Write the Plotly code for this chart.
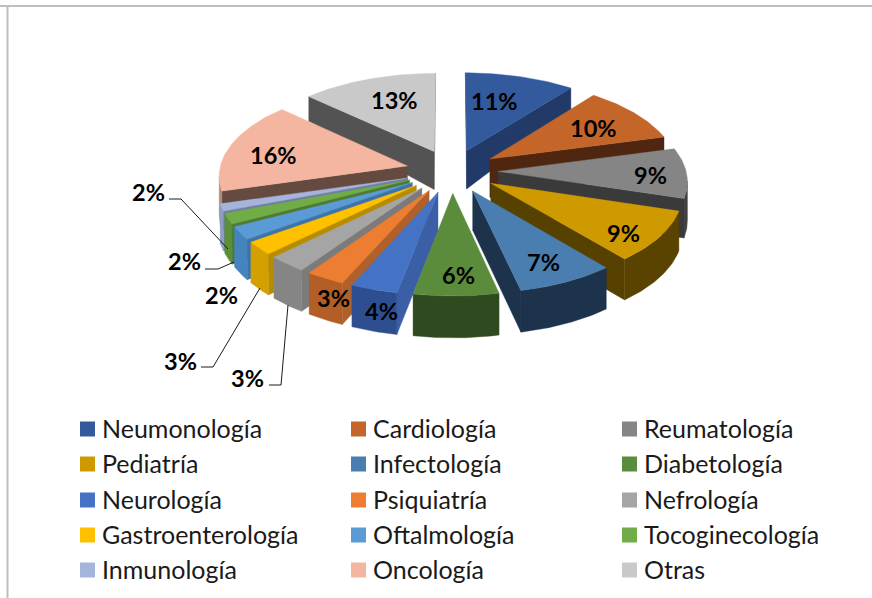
import numpy as np
import plotly.graph_objects as go

# ---- data ----
categories = ["Neumonología", "Cardiología", "Reumatología", "Pediatría", "Infectología",
              "Diabetología", "Neurología", "Psiquiatría", "Nefrología", "Gastroenterología",
              "Oftalmología", "Tocoginecología", "Inmunología", "Oncología", "Otras"]
percent_labels = [11, 10, 9, 9, 7, 6, 4, 3, 3, 3, 2, 2, 2, 16, 13]
# slice shares as measured from the angles in the picture
slice_shares = [10.5, 10.3, 9.0, 9.2, 7.5, 6.5, 3.6, 3.0, 3.0, 2.4, 2.3, 1.9, 1.3, 16.5, 13.0]

# ---- styles ----
top_colors = ["#335A9C", "#C4652A", "#858585", "#CF9A00", "#4A7EB0", "#5B8C3C", "#4472C4", "#ED7D31",
              "#A5A5A5", "#FFC000", "#5B9BD5", "#70AD47", "#A5B4DA", "#F4B6A0", "#C9C9C9"]
radial_wall_colors = ["#223A68", "#4F2610", "#3A3A3A", "#564100", "#1D334B", "#304A1F", "#3A5FA6", "#B0602A",
                      "#7B7B7B", "#B88C00", "#3D74A8", "#4F7A31", "#6F7EA6", "#654A3F", "#535353"]
outer_wall_colors = ["#223A68", "#4F2610", "#404040", "#5A4300", "#1D334B", "#304A1F", "#2D4F90", "#B35E26",
                     "#858585", "#D4A000", "#4585BF", "#5B8F38", "#8E9DC4", "#B08A75", "#535353"]

# ---- projection of the exploded 3-D pie ----
CX, CY, RX, RY, PERSP, EXPLODE = 452.0, 171.0, 188.0, 88.8, 0.0928, 0.245
FONT = "Lato, Carlito, Calibri, sans-serif"


def project(X, Y):
    s = 1.0 / (1.0 + PERSP * np.asarray(Y, dtype=float))
    return CX + RX * np.asarray(X) * s, CY - RY * np.asarray(Y) * s


def wall_height(Y):
    return np.interp(Y, [-1.3, 0.25, 1.05], [42.0, 38.0, 22.0])


def slice_geometry(a0, a1):
    mid = (a0 + a1) / 2
    ex, ey = EXPLODE * np.sin(mid), EXPLODE * np.cos(mid)
    th = np.linspace(a0, a1, max(8, int((a1 - a0) * 60)))
    X = np.r_[ex, ex + np.sin(th), ex]
    Y = np.r_[ey, ey + np.cos(th), ey]
    return X, Y


def add_poly(fig, xs, ys, color, name):
    fig.add_trace(go.Scatter(x=xs, y=ys, mode="lines", fill="toself", fillcolor=color,
                             line=dict(width=0.4, color=color), name=name,
                             hoverinfo="name", showlegend=False))


fig = go.Figure()

cum = np.cumsum([0] + slice_shares) / sum(slice_shares) * 2 * np.pi
order = sorted(range(len(slice_shares)), key=lambda i: -np.cos((cum[i] + cum[i + 1]) / 2))
for i in order:
    X, Y = slice_geometry(cum[i], cum[i + 1])
    sx, sy = project(X, Y)
    h = wall_height(Y)
    n = len(sx) - 1
    # polygon runs clockwise on screen, so an edge faces the viewer when it runs leftwards
    faces = [(k, "radial" if k in (0, n - 1) else "outer") for k in range(n) if sx[k + 1] < sx[k]]
    outer = [k for k, kind in faces if kind == "outer"]
    radial = [k for k, kind in faces if kind == "radial"]
    for k in radial:
        xs = [sx[k], sx[k + 1], sx[k + 1], sx[k], sx[k]]
        ys = [sy[k], sy[k + 1], sy[k + 1] + h[k + 1], sy[k] + h[k], sy[k]]
        add_poly(fig, xs, ys, radial_wall_colors[i], categories[i] + " (lado)")
    if outer:
        idx = list(range(outer[0], outer[-1] + 2))
        xs = np.r_[sx[idx], sx[idx][::-1], sx[idx][0]]
        ys = np.r_[sy[idx], (sy[idx] + h[idx])[::-1], sy[idx][0]]
        add_poly(fig, xs, ys, outer_wall_colors[i], categories[i] + " (borde)")
    add_poly(fig, sx, sy, top_colors[i], categories[i])

# ---- layout furniture: data labels, leader lines, legend, frame ----
LABEL_POS = [(494, 101), (593, 128), (650, 175), (623, 233), (543, 262), (458, 275), (381, 311), (333, 298),
             (247, 378), (180, 361), (221, 295), (184, 261), (148, 192), (273, 155), (394, 100)]
LEADERS = [[(269, 385), (281, 385), (288, 305)],
           [(201, 367), (213, 367), (260, 288)],
           [(205, 269), (218, 269), (234, 262)],
           [(169, 199), (181, 199), (228, 249)]]
annotations = []
for v, (lx, ly) in zip(percent_labels, LABEL_POS):
    annotations.append(dict(x=lx, y=ly, xref="x", yref="y", text=f"<b>{v}%</b>", showarrow=False,
                            font=dict(family=FONT, size=23.5, color="#000000"), xanchor="center", yanchor="middle"))

shapes = [dict(type="line", x0=0, x1=872, y0=6, y1=6, xref="x", yref="y", line=dict(color="#BFBFBF", width=2), layer="below"),
          dict(type="line", x0=7.5, x1=7.5, y0=6, y1=598, xref="x", yref="y", line=dict(color="#BFBFBF", width=2), layer="below")]
for pts in LEADERS:
    path = "M " + " L ".join(f"{a},{b}" for a, b in pts)
    shapes.append(dict(type="path", path=path, xref="x", yref="y", line=dict(color="#1A1A1A", width=1)))

LEG_X = [87.5, 358.5, 629.5]
LEG_Y = [429, 464, 500, 535, 570]
for i, name in enumerate(categories):
    col, row = i % 3, i // 3
    fig.add_trace(go.Scatter(x=[LEG_X[col]], y=[LEG_Y[row]], mode="markers", name=name, showlegend=False,
                             marker=dict(symbol="square", size=15, color=top_colors[i], line=dict(width=0)),
                             hoverinfo="name"))
    annotations.append(dict(x=LEG_X[col] + 12, y=LEG_Y[row] - 1, xref="x", yref="y", text=name, showarrow=False,
                            font=dict(family=FONT, size=25, color="#1A1A1A"), xanchor="left", yanchor="middle"))

fig.update_layout(width=872, height=598, margin=dict(l=0, r=0, t=0, b=0), autosize=False,
                  paper_bgcolor="#FFFFFF", plot_bgcolor="#FFFFFF", showlegend=False,
                  xaxis=dict(range=[0, 872], visible=False, fixedrange=True),
                  yaxis=dict(range=[598, 0], visible=False, fixedrange=True),
                  annotations=annotations, shapes=shapes)
fig.write_html("out.html", config={"displayModeBar": False},
               post_script="document.documentElement.style.margin='0';document.body.style.margin='0';document.body.style.overflow='hidden';")
